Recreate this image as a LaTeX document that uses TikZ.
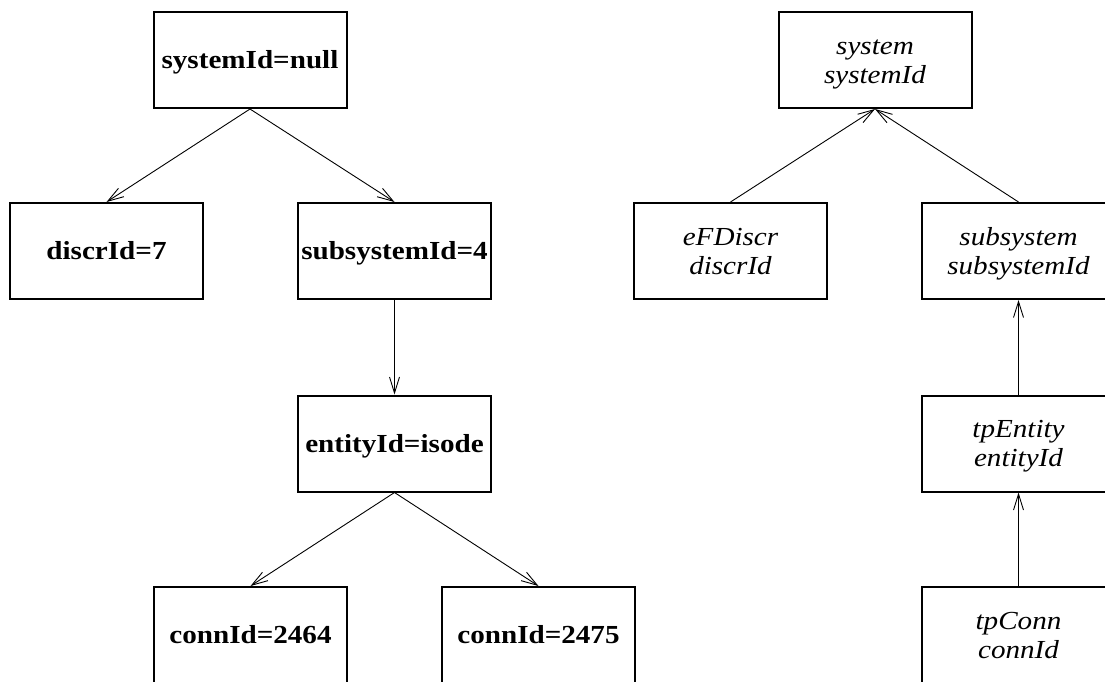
\documentclass[tikz,border=0pt]{standalone}
\usepackage{fontspec}
\usetikzlibrary{arrows.meta}
% Times-like face, set a little wide
\newfontfamily\diagfont[FakeStretch=1.12]{Liberation Serif}
\newcommand{\keylines}[2]{\begin{tabular}[b]{@{}c@{}}#1\\#2\end{tabular}}
\tikzset{
  idbox/.style={draw, line width=2pt, minimum width=193pt, minimum height=96pt,
    inner sep=0pt},
  valuebox/.style={idbox, font=\diagfont\bfseries\fontsize{26}{29}\selectfont,
    text height=17pt, text depth=0pt},
  keybox/.style={idbox, font=\diagfont\itshape\fontsize{26}{29}\selectfont,
    text height=46pt, text depth=0pt},
  link/.style={line width=0.9pt, -{Straight Barb[length=16pt,width=10pt]}}
}
\begin{document}
\begin{tikzpicture}[x=1pt,y=-1pt]
\useasboundingbox (0,0) rectangle (1105,681);
\clip (0,0) rectangle (1105,681);

% instance tree
\node[valuebox] (sysnull) at (250,60)    {systemId=null};
\node[valuebox] (discr)   at (106.5,251) {discrId=7};
\node[valuebox] (subsys)  at (394.5,251) {subsystemId=4};
\node[valuebox] (entity)  at (394.5,443.5) {entityId=isode};
\node[valuebox] (c2464)   at (250.5,635) {connId=2464};
\node[valuebox] (c2475)   at (538.5,635) {connId=2475};

\draw[link] (sysnull.south) -- (discr.north);
\draw[link] (sysnull.south) -- (subsys.north);
\draw[link] (subsys.south)  -- (entity.north);
\draw[link] (entity.south)  -- (c2464.north);
\draw[link] (entity.south)  -- (c2475.north);

% naming hierarchy
\node[keybox] (system)    at (875,60)     {\keylines{system}{systemId}};
\node[keybox] (efdiscr)   at (730.5,251)  {\keylines{eFDiscr}{discrId}};
\node[keybox] (subsystem) at (1018.5,251) {\keylines{subsystem}{subsystemId}};
\node[keybox] (tpentity)  at (1018.5,443.5) {\keylines{tpEntity}{entityId}};
\node[keybox] (tpconn)    at (1018.5,635) {\keylines{tpConn}{connId}};

\draw[link] (efdiscr.north)   -- (system.south);
\draw[link] (subsystem.north) -- (system.south);
\draw[link] (tpentity.north)  -- (subsystem.south);
\draw[link] (tpconn.north)    -- (tpentity.south);
\end{tikzpicture}
\end{document}
